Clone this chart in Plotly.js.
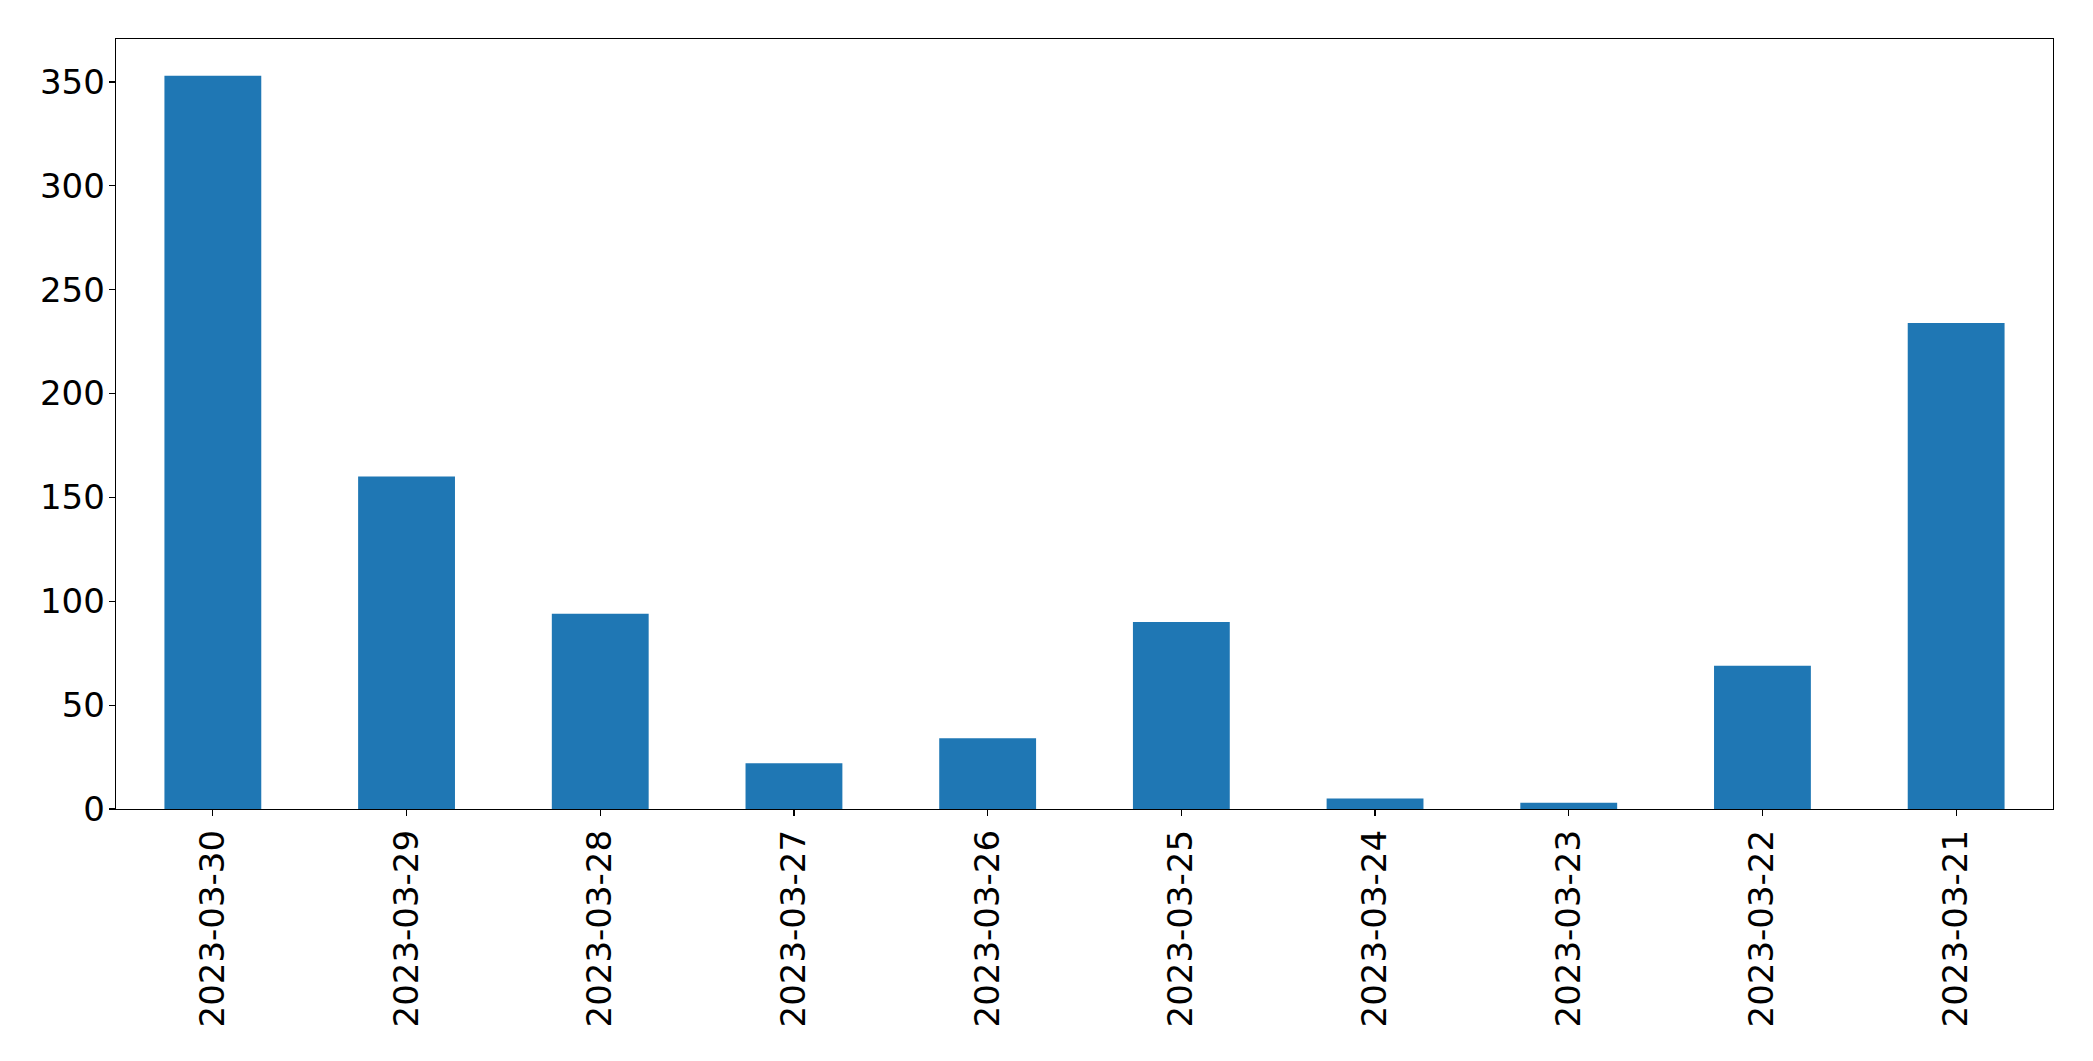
<!DOCTYPE html>
<html>
<head>
<meta charset="utf-8">
<script src="https://cdn.plot.ly/plotly-3.0.1.min.js"></script>
<style>
  html, body { margin: 0; padding: 0; background: #ffffff; }
  #chart { width: 2093px; height: 1061px; }
</style>
</head>
<body>
<div id="chart"></div>
<script>
const dates = ["2023-03-30", "2023-03-29", "2023-03-28", "2023-03-27", "2023-03-26",
               "2023-03-25", "2023-03-24", "2023-03-23", "2023-03-22", "2023-03-21"];
const counts = [353, 160, 94, 22, 34, 90, 5, 3, 69, 234];
const yTicks = [0, 50, 100, 150, 200, 250, 300, 350];

const trace = {
  type: "bar",
  x: dates,
  y: counts,
  marker: { color: "#1f77b4", line: { width: 0 } },
  hoverinfo: "x+y"
};

const font = { family: "DejaVu Sans, sans-serif", size: 34, color: "#000000" };

const layout = {
  width: 2093,
  height: 1061,
  margin: { l: 116, r: 40, t: 39, b: 252, pad: 0 },
  paper_bgcolor: "#ffffff",
  plot_bgcolor: "#ffffff",
  showlegend: false,
  bargap: 0.5,
  font: font,
  xaxis: {
    type: "category",
    range: [-0.5, dates.length - 0.5],
    tickangle: -90,
    ticks: "outside",
    ticklen: 6,
    tickwidth: 1.2,
    tickcolor: "#000000",
    ticklabelstandoff: 0,
    showline: true,
    linecolor: "#000000",
    linewidth: 1.3,
    mirror: true,
    showgrid: false,
    zeroline: false,
    tickfont: font,
    fixedrange: true
  },
  yaxis: {
    range: [0, Math.max(...counts) * 1.05],
    tickmode: "array",
    tickvals: yTicks,
    ticktext: yTicks.map(String),
    ticks: "outside",
    ticklen: 6,
    tickwidth: 1.2,
    tickcolor: "#000000",
    ticklabelstandoff: -3,
    showline: true,
    linecolor: "#000000",
    linewidth: 1.3,
    mirror: true,
    showgrid: false,
    zeroline: false,
    tickfont: font,
    fixedrange: true
  }
};

Plotly.newPlot("chart", [trace], layout, { displayModeBar: false, staticPlot: true });
</script>
</body>
</html>
